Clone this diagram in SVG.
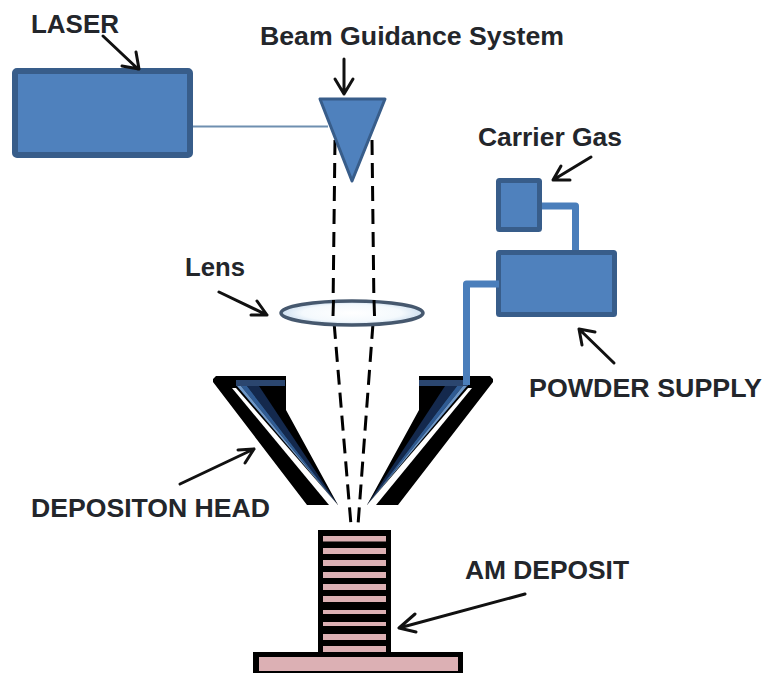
<svg xmlns="http://www.w3.org/2000/svg" width="767" height="673" viewBox="0 0 767 673">
<style>
.box{fill:#4f81bd;stroke:#385d8a;stroke-linejoin:round}
.pipe{fill:none;stroke:#4a7ebb;stroke-width:7;stroke-linejoin:round}
.beam{fill:none;stroke:#000;stroke-width:3;stroke-dasharray:15 8}
.lead{fill:none;stroke:#111;stroke-width:3;stroke-linecap:round;stroke-linejoin:round}
.t{font-family:"Liberation Sans",Arial,sans-serif;font-weight:700;font-size:26px;fill:#23262b}
.bar{fill:#dcb0b4}
.hi{fill:#6d97c8}
.mid{fill:#2f5b93}
.low{fill:#14294d}
</style>
<defs>
<radialGradient id="lensfill"><stop offset="0" stop-color="#ffffff"/><stop offset="0.7" stop-color="#f4f9fd"/><stop offset="1" stop-color="#cfe0f0"/></radialGradient>
</defs>
<rect width="767" height="673" fill="#fff"/>
<g id="connectors">
<line x1="192" y1="126.5" x2="328" y2="126.5" stroke="#6f8fb0" stroke-width="2"/>
<polyline class="pipe" points="540,206 575.5,206 575.5,252"/>
<polyline class="beam" points="335,140 333,310 351,525"/>
<polyline class="beam" points="372,140 374,310 358,525"/>
</g>
<g id="laser"><rect class="box" x="15" y="71" width="175" height="84" rx="2" stroke-width="6"/></g>
<g id="guidance"><polygon class="box" points="320,99 385,99 352,181" stroke-width="3"/></g>
<g id="carrier-gas"><rect class="box" x="498.500" y="180.500" width="41" height="49" rx="1" stroke-width="5"/></g>
<g id="powder-supply"><rect class="box" x="498.500" y="252.500" width="116" height="62" rx="1" stroke-width="5"/></g>
<g id="lens"><ellipse cx="352" cy="313" rx="71" ry="12" fill="url(#lensfill)" stroke="#46586e" stroke-width="3.500"/>
<line x1="333.500" y1="300" x2="333" y2="316" stroke="#000" stroke-width="3"/><line x1="374" y1="300" x2="374.500" y2="316" stroke="#000" stroke-width="3"/></g>
<g id="head-left">
<polygon points="216,376 286,376 286,410 338,505 307,505 213,382 213,379" fill="#000"/>
<polygon class="low" points="247,386 259,386 338,505"/>
<polygon class="mid" points="241,386 247,386 338,505"/>
<polygon class="hi" points="237,386 241,386 338,505"/>
<rect x="236" y="380" width="49" height="6" fill="#2b466f"/>
<polygon fill="#fff" points="232,388 236,388 338,505 329,505"/>
</g>
<g id="head-right">
<polygon points="490,376 419,376 419,410 367,505 398,505 493,382 493,379" fill="#000"/>
<polygon class="low" points="457,386 445,386 367,505"/>
<polygon class="mid" points="463,386 457,386 367,505"/>
<polygon class="hi" points="467,386 463,386 367,505"/>
<rect x="419" y="380" width="49" height="6" fill="#2b466f"/>
<polygon fill="#fff" points="472,388 468,388 367,505 376,505"/>
</g>
<polyline class="pipe" points="499,284 466.500,284 466.500,385"/>
<g id="deposit">
<rect x="318" y="530" width="73" height="125" fill="#000"/>
<rect class="bar" x="323" y="536" width="63" height="5.500"/>
<rect class="bar" x="323" y="548" width="63" height="6"/>
<rect class="bar" x="323" y="560" width="63" height="6"/>
<rect class="bar" x="323" y="572" width="63" height="6"/>
<rect class="bar" x="323" y="584" width="63" height="6"/>
<rect class="bar" x="323" y="596" width="63" height="6"/>
<rect class="bar" x="323" y="610" width="63" height="4"/>
<rect class="bar" x="323" y="622" width="63" height="4"/>
<rect class="bar" x="323" y="634" width="63" height="6"/>
<rect class="bar" x="323" y="646" width="63" height="6"/>
<rect x="253" y="652" width="210" height="21" fill="#000"/>
<rect class="bar" x="259" y="657" width="199" height="14"/>
</g>
<g id="leaders">
<path class="lead" d="M103,36L138,69M122,66L139,69L136,52"/>
<path class="lead" d="M344,59V94M335,79L344,94L353,79"/>
<path class="lead" d="M591,157L553,180M570,180L553,180L561,166"/>
<path class="lead" d="M219,292L267,315M251,315L267,315L257,301"/>
<path class="lead" d="M614,363L579,329M582,345L579,329L595,332"/>
<path class="lead" d="M180,484L254,449M238,450L254,449L245,463"/>
<path class="lead" d="M525,594L399,628M415,614L399,628L416,632"/>
</g>
<g id="labels">
<text class="t" x="31" y="33" textLength="88" lengthAdjust="spacingAndGlyphs">LASER</text>
<text class="t" x="260" y="45" textLength="304" lengthAdjust="spacingAndGlyphs">Beam Guidance System</text>
<text class="t" x="478" y="146" textLength="144" lengthAdjust="spacingAndGlyphs">Carrier Gas</text>
<text class="t" x="185" y="276" textLength="60" lengthAdjust="spacingAndGlyphs">Lens</text>
<text class="t" x="529" y="397" textLength="233" lengthAdjust="spacingAndGlyphs">POWDER SUPPLY</text>
<text class="t" x="31" y="517" textLength="239" lengthAdjust="spacingAndGlyphs">DEPOSITON HEAD</text>
<text class="t" x="465" y="579" textLength="164" lengthAdjust="spacingAndGlyphs">AM DEPOSIT</text>
</g>
</svg>
